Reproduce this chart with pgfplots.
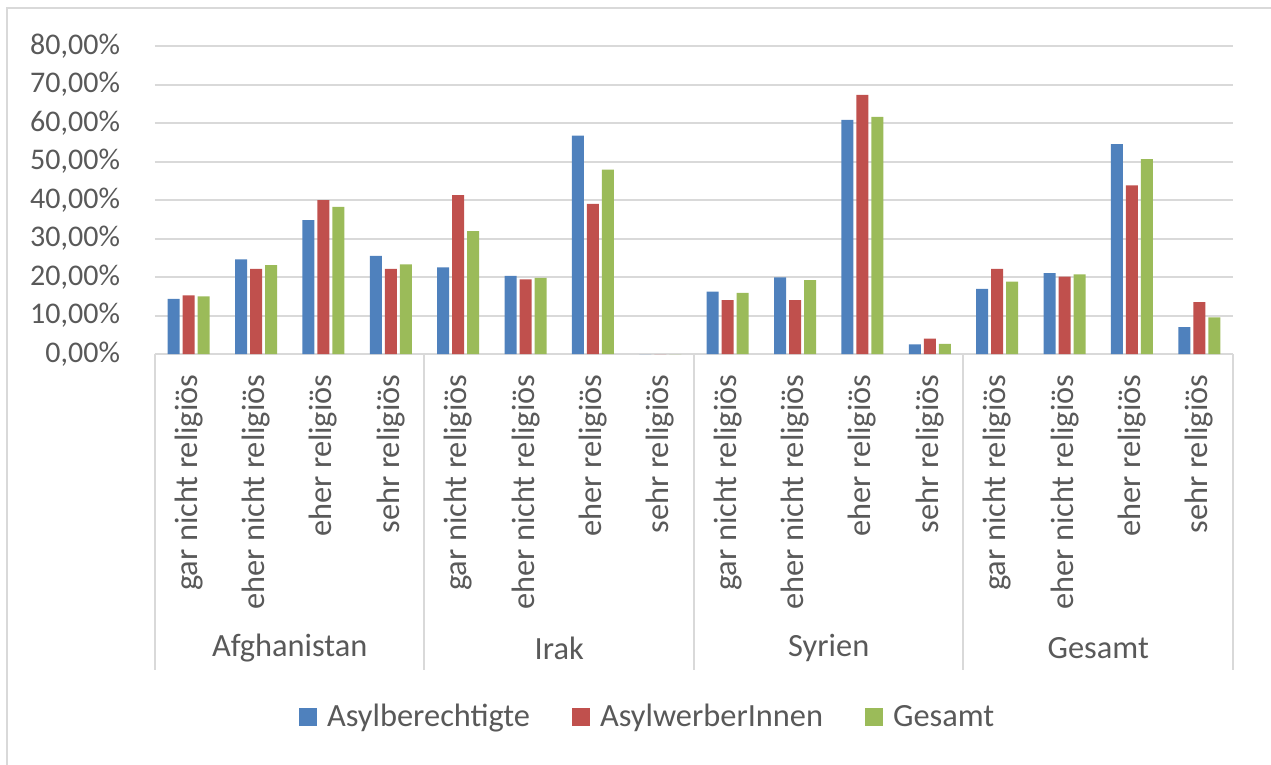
\documentclass[border=0pt]{standalone}
\usepackage{pgfplots}
\usepackage{pgfplotstable}
\pgfplotsset{compat=1.18}
\usepackage{fontspec}
\setmainfont{Carlito}

\definecolor{cblue}{HTML}{4F81BD}
\definecolor{cred}{HTML}{C0504D}
\definecolor{cgreen}{HTML}{9BBB59}
\definecolor{ctext}{HTML}{595959}
\definecolor{cgrid}{HTML}{D9D9D9}

% x, Asylberechtigte, AsylwerberInnen, Gesamt (in %)
\pgfplotstableread{
x  ab    aw    ges
0  14.3  15.2  15.0
1  24.6  22.1  23.1
2  34.8  40.0  38.2
3  25.5  22.1  23.3
4  22.5  41.3  31.9
5  20.3  19.4  19.8
6  56.7  39.0  47.9
7  0     0     0
8  16.2  14.0  15.9
9  19.9  14.0  19.2
10 60.8  67.3  61.6
11 2.5   4.0   2.6
12 16.9  22.1  18.8
13 21.0  20.1  20.7
14 54.5  43.8  50.6
15 7.0   13.5  9.5
}\religion

\begin{document}
\begin{tikzpicture}
% 1 px of the reference = 0.5pt; axis lower left at px (155,354)
\useasboundingbox (-77.5pt,-205.5pt) rectangle (558pt,177pt);
\draw[cgrid, line width=1pt] (-74pt,-210pt) -- (-74pt,173pt) -- (565pt,173pt);
\begin{axis}[
  at={(0,0)}, anchor=south west,
  scale only axis, width=539pt, height=154pt,
  xmin=-0.5, xmax=15.5, ymin=0, ymax=80,
  ybar, bar width=6pt,
  ytick={0,10,...,80},
  yticklabels={{0,00\%},{10,00\%},{20,00\%},{30,00\%},{40,00\%},{50,00\%},{60,00\%},{70,00\%},{80,00\%}},
  xtick={0,...,15},
  xticklabels={gar nicht religiös, eher nicht religiös, eher religiös, sehr religiös,
               gar nicht religiös, eher nicht religiös, eher religiös, sehr religiös,
               gar nicht religiös, eher nicht religiös, eher religiös, sehr religiös,
               gar nicht religiös, eher nicht religiös, eher religiös, sehr religiös},
  xticklabel style={rotate=90, anchor=east, xshift=-2.5pt, font=\fontsize{16.2}{19}\selectfont},
  yticklabel style={anchor=east, xshift=-14pt, font=\fontsize{15}{18}\selectfont},
  tick label style={text=ctext},
  xtick style={draw=none}, ytick style={draw=none},
  ymajorgrids, grid style={cgrid, line width=1pt},
  axis x line*=bottom, axis y line*=left,
  y axis line style={draw=none},
  x axis line style={cgrid, line width=1pt},
  clip=false,
  legend style={at={(0.458,0)}, anchor=center, yshift=-181.5pt, draw=none, fill=none,
    legend columns=3, font=\fontsize{16.2}{19}\selectfont, text=ctext,
    /tikz/every odd column/.append style={column sep=3pt},
    /tikz/every even column/.append style={column sep=19pt}},
  legend image code/.code={\fill[#1] (-4.5pt,-4.5pt) rectangle (4.5pt,4.5pt);},
]
\addplot[fill=cblue, draw=none, bar shift=-7.5pt] table[x=x, y=ab] {\religion};
\addplot[fill=cred, draw=none, bar shift=0pt] table[x=x, y=aw] {\religion};
\addplot[fill=cgreen, draw=none, bar shift=7.5pt] table[x=x, y=ges] {\religion};
\legend{Asylberechtigte, AsylwerberInnen, Gesamt}
% group separators of the category table
\draw[cgrid, line width=1pt] (axis cs:-0.5,0) -- ([yshift=-158pt]axis cs:-0.5,0);
\draw[cgrid, line width=1pt] (axis cs:3.5,0) -- ([yshift=-158pt]axis cs:3.5,0);
\draw[cgrid, line width=1pt] (axis cs:7.5,0) -- ([yshift=-158pt]axis cs:7.5,0);
\draw[cgrid, line width=1pt] (axis cs:11.5,0) -- ([yshift=-158pt]axis cs:11.5,0);
\draw[cgrid, line width=1pt] (axis cs:15.5,0) -- ([yshift=-158pt]axis cs:15.5,0);
\node[font=\fontsize{16.2}{19}\selectfont, text=ctext] at ([yshift=-147pt]axis cs:1.5,0) {Afghanistan};
\node[font=\fontsize{16.2}{19}\selectfont, text=ctext] at ([yshift=-147pt]axis cs:5.5,0) {Irak};
\node[font=\fontsize{16.2}{19}\selectfont, text=ctext] at ([yshift=-147pt]axis cs:9.5,0) {Syrien};
\node[font=\fontsize{16.2}{19}\selectfont, text=ctext] at ([yshift=-147pt]axis cs:13.5,0) {Gesamt};
\end{axis}
\end{tikzpicture}
\end{document}
